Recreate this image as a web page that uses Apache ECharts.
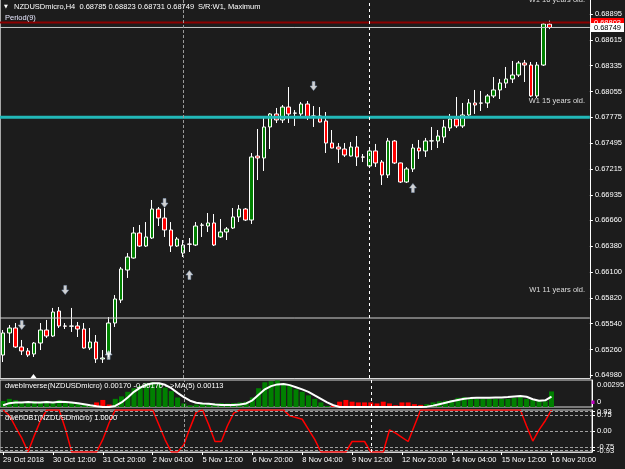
<!DOCTYPE html>
<html>
<head>
<meta charset="utf-8">
<script src="https://cdn.jsdelivr.net/npm/echarts@6/dist/echarts.min.js"></script>
<style>
html, body { margin: 0; padding: 0; background: #1c1c1c; }
#chart { width: 625px; height: 469px; }
</style>
</head>
<body>
<div id="chart"></div>
<script>
// NZDUSDmicro H4, 29 Oct 04:00 .. 16 Nov 20:00 (89 bars)
const opens = [0.65200,0.65439,0.65493,0.65287,0.65244,0.65211,0.65330,0.65471,0.65406,0.65677,
  0.65515,0.65512,0.65515,0.65482,0.65276,0.65341,0.65157,0.65211,0.65547,0.65796,
  0.66121,0.66251,0.66522,0.66381,0.66468,0.66782,0.66685,0.66555,0.66381,0.66305,
  0.66403,0.66392,0.66609,0.66598,0.66631,0.66479,0.66533,0.66576,0.66696,0.66782,
  0.66663,0.67356,0.67335,0.67671,0.67812,0.67747,0.67887,0.67822,0.67812,0.67920,
  0.67790,0.67790,0.67736,0.67497,0.67454,0.67432,0.67356,0.67454,0.67346,0.67248,
  0.67411,0.67291,0.67151,0.67519,0.67281,0.67075,0.67216,0.67443,0.67411,0.67519,
  0.67519,0.67562,0.67660,0.67757,0.67682,0.67801,0.67931,0.67931,0.67931,0.68007,
  0.68072,0.68147,0.68191,0.68234,0.68364,0.68342,0.68007,0.68342,0.68785]
const highs = [0.65471,0.65525,0.65547,0.65363,0.65276,0.65341,0.65547,0.65580,0.65710,0.65720,
  0.65547,0.65710,0.65558,0.65547,0.65493,0.65417,0.65254,0.65612,0.65850,0.66154,
  0.66305,0.66587,0.66609,0.66641,0.66880,0.66804,0.66793,0.66641,0.66479,0.66446,
  0.66468,0.66641,0.66631,0.66739,0.66728,0.66674,0.66587,0.66793,0.66826,0.66793,
  0.67389,0.67649,0.67768,0.67822,0.67877,0.67909,0.68104,0.67855,0.67942,0.67952,
  0.67898,0.67887,0.67833,0.67638,0.67497,0.67497,0.67508,0.67573,0.67378,0.67454,
  0.67487,0.67313,0.67552,0.67530,0.67285,0.67237,0.67487,0.67530,0.67552,0.67671,
  0.67638,0.67747,0.67812,0.67996,0.67931,0.67974,0.68072,0.68061,0.68028,0.68212,
  0.68191,0.68321,0.68386,0.68386,0.68397,0.68375,0.68375,0.68798,0.68823]
const lows = [0.65124,0.65330,0.65276,0.65200,0.65179,0.65179,0.65254,0.65385,0.65395,0.65493,
  0.65482,0.65450,0.65395,0.65270,0.65254,0.65114,0.65114,0.65179,0.65504,0.65764,
  0.66035,0.66245,0.66371,0.66371,0.66457,0.66598,0.66479,0.66316,0.66371,0.66262,
  0.66316,0.66381,0.66479,0.66533,0.66381,0.66468,0.66446,0.66566,0.66641,0.66652,
  0.66620,0.67096,0.67194,0.67432,0.67714,0.67714,0.67714,0.67682,0.67779,0.67747,
  0.67671,0.67720,0.67389,0.67440,0.67281,0.67346,0.67350,0.67248,0.67291,0.67237,
  0.67237,0.67042,0.67118,0.67270,0.67064,0.67064,0.67183,0.67324,0.67346,0.67421,
  0.67443,0.67497,0.67627,0.67660,0.67660,0.67790,0.67812,0.67844,0.67877,0.67985,
  0.67974,0.68093,0.68147,0.68212,0.68158,0.67996,0.67985,0.68332,0.68731]
const closes = [0.65439,0.65493,0.65287,0.65244,0.65200,0.65330,0.65471,0.65406,0.65666,0.65515,
  0.65512,0.65515,0.65482,0.65276,0.65341,0.65157,0.65168,0.65547,0.65807,0.66132,
  0.66262,0.66522,0.66381,0.66479,0.66782,0.66685,0.66555,0.66381,0.66457,0.66392,
  0.66400,0.66598,0.66606,0.66631,0.66392,0.66533,0.66566,0.66696,0.66782,0.66663,
  0.67346,0.67335,0.67671,0.67812,0.67747,0.67887,0.67812,0.67820,0.67920,0.67779,
  0.67788,0.67725,0.67497,0.67443,0.67432,0.67367,0.67454,0.67346,0.67344,0.67411,
  0.67281,0.67151,0.67519,0.67281,0.67075,0.67216,0.67443,0.67411,0.67519,0.67521,
  0.67573,0.67671,0.67757,0.67682,0.67801,0.67931,0.67909,0.67929,0.68007,0.68072,
  0.68147,0.68191,0.68234,0.68364,0.68342,0.68007,0.68342,0.68787,0.68749]

// dwebInverse histogram (negative = red bars) and its MA(5)
const inverseHist = [0.00066,0.00089,0.00077,0.00058,0.00058,0.00066,0.00058,0.00066,0.00058,0.00077,
  0.00066,0.00050,0.00039,0.00027,0.00012,-0.00050,-0.00077,-0.00027,0.00089,0.00116,
  0.00166,0.00205,0.00232,0.00259,0.00270,0.00251,0.00212,0.00174,0.00104,0.00039,
  0.00019,0.00027,0.00039,0.00039,0.00039,0.00043,0.00039,0.00043,0.00050,0.00058,
  0.00104,0.00205,0.00270,0.00282,0.00290,0.00259,0.00232,0.00193,0.00166,0.00127,
  0.00089,0.00050,0.00012,-0.00020,-0.00058,-0.00077,-0.00058,-0.00050,-0.00050,-0.00050,
  -0.00039,-0.00058,-0.00039,-0.00019,-0.00050,-0.00050,-0.00031,-0.00023,0.00031,0.00050,
  0.00062,0.00069,0.00077,0.00100,0.00108,0.00100,0.00089,0.00089,0.00089,0.00089,
  0.00089,0.00089,0.00100,0.00108,0.00089,0.00077,0.00069,0.00062,0.00170]
const inverseMA = [0.00019,0.00042,0.00050,0.00050,0.00054,0.00050,0.00050,0.00054,0.00050,0.00058,
  0.00054,0.00050,0.00042,0.00031,0.00019,0.00008,0,0,0.00012,0.00050,
  0.00104,0.00166,0.00212,0.00243,0.00259,0.00259,0.00243,0.00205,0.00154,0.00108,
  0.00069,0.00046,0.00039,0.00035,0.00027,0.00023,0.00023,0.00023,0.00027,0.00039,
  0.00073,0.00135,0.00193,0.00228,0.00247,0.00251,0.00239,0.00216,0.00193,0.00166,
  0.00127,0.00089,0.00050,0.00019,0,0,0,0,0,0,
  0,0,0,0,0,0,0,0,0.00004,0.00015,
  0.00031,0.00046,0.00062,0.00077,0.00089,0.00097,0.00100,0.00100,0.00100,0.00104,
  0.00104,0.00108,0.00116,0.00120,0.00112,0.00085,0.00069,0.00073,0.00113]

// dwebDB1 oscillator
const db1 = [1,0.74,0.19,-0.34,-1,-0.22,0.5,1,1,1,
  0.1,-1,-1,-1,-1,-1,-0.4,0.38,1,1,
  1,1,1,1,1,0.3,-0.42,-1,-1,-0.66,
  0.15,0.9,1,0.3,-0.5,-0.5,0.25,0.85,1,1,
  1,1,1,1,1,1,0.72,0.64,0.56,0.08,
  -0.4,-1,-1,-1,-1,-1,-0.5,-0.5,-0.5,-1,
  -1,-1,0.05,-0.1,-0.3,-0.5,0.25,1,1,1,
  1,1,1,1,1,1,1,1,1,1,
  1,1,1,1,0.24,-0.48,0.05,0.49,1]

// signal arrows: [bar index, price]
const downArrows = [[3, 0.65525], [10, 0.65905], [26, 0.66847], [50, 0.68115]]
const upArrows = [[17, 0.65200], [30, 0.66067], [66, 0.67010]]

const timeLabels = ['29 Oct 2018', '30 Oct 12:00', '31 Oct 20:00', '2 Nov 04:00', '5 Nov 12:00',
  '6 Nov 20:00', '8 Nov 04:00', '9 Nov 12:00', '12 Nov 20:00', '14 Nov 04:00', '15 Nov 12:00', '16 Nov 20:00']
const priceTicks = [0.68895, 0.68615, 0.68335, 0.68055, 0.67775, 0.67495, 0.67215, 0.66935,
  0.66660, 0.66380, 0.66100, 0.65820, 0.65540, 0.65260, 0.64980]
const db1Ticks = [0.93, 0.75, 0, -0.75, -0.93]
const weekSeparators = [29, 59]

// horizontal levels: W1 support/resistance, maximum and bid
const srCyan = 0.67775
const srGray = 0.65601
const srMaximum = 0.68803
const bid = 0.68749

const FONT = 'Liberation Sans, Arial, sans-serif'
const FS = 7.5
const TOTAL_BARS = 95
const cats = Array.from({ length: TOTAL_BARS }, (_, i) => i)

const sepData = [
  { xAxis: weekSeparators[0], lineStyle: { color: '#9a9a9a', type: [3, 2], width: 1 } },
  { xAxis: weekSeparators[1], lineStyle: { color: '#ffffff', type: [3, 3], width: 1 } }
]

// a full-width horizontal level, drawn on a hidden value x axis spanning the pane
const levelSeries = (v, color, width, label) => ({
  type: 'line',
  xAxisIndex: 3,
  yAxisIndex: 0,
  data: [[-0.5, v], [TOTAL_BARS - 0.5, v]],
  symbol: 'none',
  silent: true,
  lineStyle: { color: color, width: width },
  z: 3,
  endLabel: label ? Object.assign({
    show: true, distance: 1, formatter: v.toFixed(5),
    padding: [1, 3, 0, 3], fontSize: FS, fontFamily: FONT
  }, label) : { show: false }
})

const chart = echarts.init(document.getElementById('chart'))

const xAxes = [0, 1, 2].map(g => ({
  type: 'category',
  gridIndex: g,
  data: cats,
  boundaryGap: true,
  axisLine: { show: g !== 1, onZero: false, lineStyle: { color: '#d8d8d8' } },
  splitLine: { show: false },
  axisTick: {
    show: g === 2,
    alignWithLabel: true,
    interval: idx => idx % 8 === 0 && idx <= 88,
    length: 3,
    lineStyle: { color: '#ffffff' }
  },
  axisLabel: {
    show: g === 2,
    interval: idx => idx % 8 === 0 && idx <= 88,
    formatter: (v, idx) => timeLabels[Math.round(idx / 8)] || '',
    align: 'left',
    color: '#ffffff',
    fontSize: FS,
    fontFamily: FONT,
    margin: 4
  }
}))
xAxes.push({
  type: 'value', gridIndex: 0, min: -0.5, max: TOTAL_BARS - 0.5, show: false,
  axisLine: { onZero: false }
})

const option = {
  backgroundColor: '#1c1c1c',
  animation: false,
  textStyle: { fontFamily: FONT },
  grid: [
    { show: false, left: 0, width: 592, top: 0, height: 378 },
    { show: true, left: 0, width: 592, top: 380, height: 27, borderColor: '#d8d8d8', borderWidth: 1 },
    { show: true, left: 0, width: 592, top: 410, height: 42, borderColor: '#d8d8d8', borderWidth: 1 }
  ],
  xAxis: xAxes,
  yAxis: [
    {
      type: 'value',
      gridIndex: 0,
      position: 'right',
      min: 0.649511,
      max: 0.690467,
      splitLine: { show: false },
      axisLine: { show: true, onZero: false, lineStyle: { color: '#ffffff' } },
      axisTick: { show: true, customValues: priceTicks, length: 3, lineStyle: { color: '#ffffff' } },
      axisLabel: {
        customValues: priceTicks,
        formatter: v => v.toFixed(5),
        color: '#ffffff',
        fontSize: FS,
        fontFamily: FONT,
        margin: 5
      }
    },
    {
      type: 'value',
      gridIndex: 1,
      position: 'right',
      min: 0,
      max: 0.00295,
      splitLine: { show: false },
      axisLine: { show: true, onZero: false, lineStyle: { color: '#ffffff' } },
      axisTick: { show: false },
      axisLabel: { show: false }
    },
    {
      type: 'value',
      gridIndex: 2,
      position: 'right',
      min: -1,
      max: 1,
      splitLine: { show: false },
      axisLine: { show: true, onZero: false, lineStyle: { color: '#ffffff' } },
      axisTick: { show: true, customValues: db1Ticks, length: 3, lineStyle: { color: '#ffffff' } },
      axisLabel: { show: false }
    },
    {
      // left frame edge of the price pane
      type: 'value',
      gridIndex: 0,
      position: 'left',
      min: 0.649511,
      max: 0.690467,
      splitLine: { show: false },
      axisLine: { show: true, onZero: false, lineStyle: { color: '#a8a8a8' } },
      axisTick: { show: false },
      axisLabel: { show: false }
    }
  ],
  series: [
    {
      name: 'NZDUSDmicro',
      type: 'candlestick',
      xAxisIndex: 0,
      yAxisIndex: 0,
      barWidth: 4,
      data: opens.map((o, i) => [o, closes[i], lows[i], highs[i]]),
      itemStyle: {
        color: '#008000',
        color0: '#ff0000',
        borderColor: '#ffffff',
        borderColor0: '#ffffff',
        borderWidth: 1
      },
      markLine: { silent: true, symbol: 'none', label: { show: false }, data: sepData }
    },
    levelSeries(srCyan, '#22b8b8', 3),
    levelSeries(srGray, '#d0d0d0', 1),
    levelSeries(srMaximum, '#8b0000', 2, { color: '#ffffff', backgroundColor: '#ff0000' }),
    levelSeries(bid, '#c8c8c8', 1, { color: '#000000', backgroundColor: '#ffffff' }),
    {
      type: 'scatter',
      xAxisIndex: 0,
      yAxisIndex: 0,
      symbol: 'path://M3,0 L7,0 L7,5 L10,5 L5,10 L0,5 L3,5 Z',
      symbolSize: [7, 9],
      itemStyle: { color: '#ffffff', borderColor: '#8fa8c8', borderWidth: 0.6 },
      data: downArrows,
      z: 5
    },
    {
      type: 'scatter',
      xAxisIndex: 0,
      yAxisIndex: 0,
      symbol: 'path://M5,0 L10,5 L7,5 L7,10 L3,10 L3,5 L0,5 Z',
      symbolSize: [7, 9],
      itemStyle: { color: '#ffffff', borderColor: '#8fa8c8', borderWidth: 0.6 },
      data: upArrows,
      z: 5
    },
    {
      type: 'bar',
      xAxisIndex: 1,
      yAxisIndex: 1,
      barWidth: 5,
      data: inverseHist.map(v => ({
        value: Math.abs(v),
        itemStyle: { color: v >= 0 ? '#008000' : '#ff0000' }
      })),
      markLine: { silent: true, symbol: 'none', label: { show: false }, data: sepData }
    },
    {
      type: 'line',
      xAxisIndex: 1,
      yAxisIndex: 1,
      data: inverseMA,
      symbol: 'none',
      lineStyle: { color: '#ffffff', width: 2 },
      z: 4
    },
    {
      type: 'line',
      xAxisIndex: 2,
      yAxisIndex: 2,
      data: db1,
      symbol: 'none',
      lineStyle: { color: '#ff0000', width: 1.5 },
      markLine: {
        silent: true,
        symbol: 'none',
        label: { show: false },
        data: [
          ...db1Ticks.map(v => ({ yAxis: v, lineStyle: { color: '#a0a0a0', type: [3, 2], width: 1 } })),
          ...sepData
        ]
      }
    }
  ]
}

chart.setOption(option)

// text labels and header lines
const py = v => chart.convertToPixel({ yAxisIndex: 0 }, v)
const pyDb = v => chart.convertToPixel({ yAxisIndex: 2 }, v)
const txt = (x, y, text, extra) => ({
  type: 'text',
  x: x,
  y: y,
  silent: true,
  style: Object.assign({
    text: text,
    fill: '#ffffff',
    font: FS + 'px ' + FONT,
    textVerticalAlign: 'middle'
  }, extra || {}),
  z: 100
})

chart.setOption({
  graphic: [
    txt(4, 6.5, '\u25BC', { font: '5px DejaVu Sans' }),
    txt(14, 6.5, 'NZDUSDmicro,H4  0.68785 0.68823 0.68731 0.68749'),
    txt(198, 6.5, 'S/R:W1, Maximum'),
    txt(5, 18, 'Period(9)', { fill: '#e8e8ff' }),
    txt(585, 0, 'W1 16 years old.', { textAlign: 'right', fill: '#dcdcdc' }),
    txt(585, py(0.67952), 'W1 15 years old.', { textAlign: 'right', fill: '#dcdcdc' }),
    txt(585, py(0.65905), 'W1 11 years old.', { textAlign: 'right', fill: '#dcdcdc' }),
    txt(5, 385.5, 'dwebInverse(NZDUSDmicro) 0.00170 -0.00170 -->MA(5) 0.00113'),
    txt(5, 418, 'dwebDB1(NZDUSDmicro) 1.0000'),
    txt(597, 384.7, '0.00295'),
    txt(597, 402.3, '0'),
    ...db1Ticks.map(v => txt(597, pyDb(v), v.toFixed(2))),
    { type: 'rect', shape: { x: 591.5, y: 400.5, width: 3, height: 3.5 }, style: { fill: '#c000c0' }, z: 100 },
    {
      type: 'polygon',
      shape: { points: [[30.5, 378], [36.5, 378], [33.5, 374]] },
      style: { fill: '#ffffff' },
      z: 100
    }
  ]
})
</script>
</body>
</html>
